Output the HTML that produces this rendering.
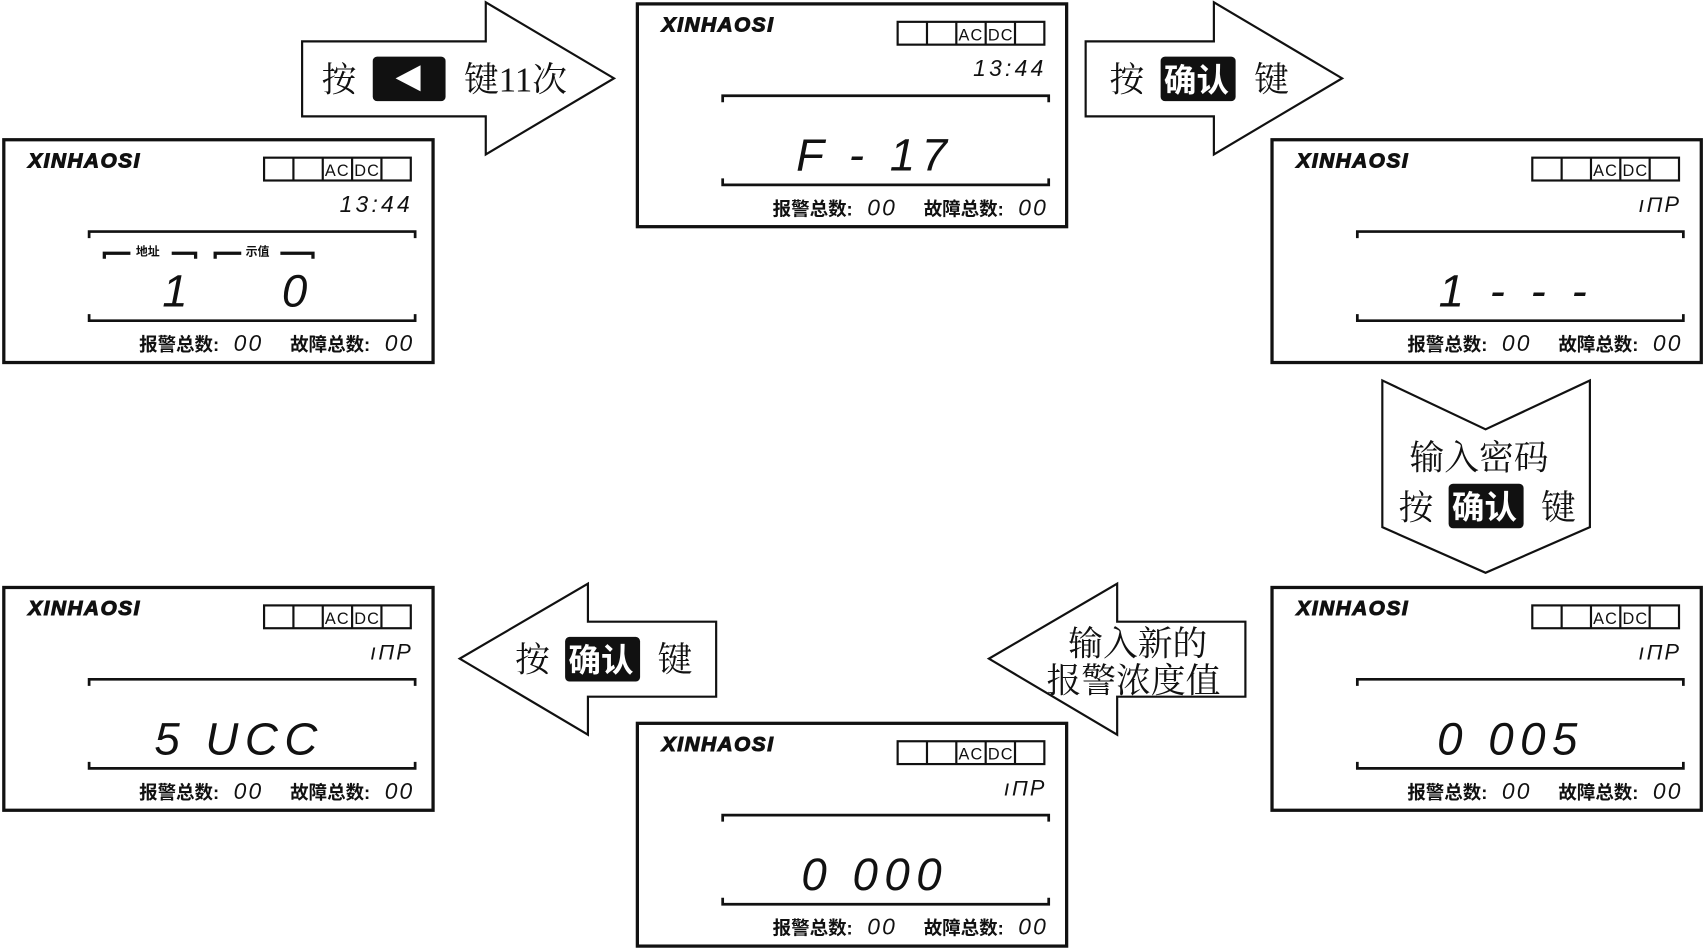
<!DOCTYPE html>
<html><head><meta charset="utf-8"><style>
html,body{margin:0;padding:0;background:#fff;}
svg{display:block}
.cn{font-family:"Liberation Serif","Noto Serif CJK SC",serif;}
.cs{font-family:"Liberation Sans","Noto Sans CJK SC",sans-serif;}
</style></head><body>
<svg width="1704" height="950" viewBox="0 0 1568 874" xmlns="http://www.w3.org/2000/svg">
<defs>
<g id="panel">
<rect x="1.5" y="1.5" width="395" height="205" fill="#fff" stroke="#111" stroke-width="3"/>
<text x="24" y="27" font-family="Liberation Sans,sans-serif" font-weight="bold" font-style="italic" font-size="19" fill="#111" stroke="#111" stroke-width="1" letter-spacing="1.5">XINHAOSI</text>
<g fill="none" stroke="#111" stroke-width="2">
<rect x="241" y="18" width="135" height="21"/>
<line x1="268" y1="18" x2="268" y2="39"/><line x1="295" y1="18" x2="295" y2="39"/>
<line x1="322" y1="18" x2="322" y2="39"/><line x1="349" y1="18" x2="349" y2="39"/>
<path d="M80,92 V86 H380 V92" stroke-width="2.5"/>
<path d="M80,162 V168 H380 V162" stroke-width="2.5"/>
</g>
<text x="297" y="35" class="cs" font-size="15" fill="#111" letter-spacing="1">AC</text>
<text x="324" y="35" class="cs" font-size="15" fill="#111" letter-spacing="1">DC</text>
<text x="126" y="196" class="cs" font-size="17" font-weight="bold" fill="#111">报警总数:</text>
<text x="213" y="196" font-family="Liberation Sans,sans-serif" font-style="italic" font-size="21" fill="#111" letter-spacing="2">00</text>
<text x="265" y="196" class="cs" font-size="17" font-weight="bold" fill="#111">故障总数:</text>
<text x="352" y="196" font-family="Liberation Sans,sans-serif" font-style="italic" font-size="21" fill="#111" letter-spacing="2">00</text>
</g>
</defs>
<g fill="#fff" stroke="#111" stroke-width="2">
<polygon points="278,38 447,38 447,2 565,72 447,142 447,107 278,107"/>
<polygon points="999,38 1117,38 1117,2 1235,72 1117,142 1117,107 999,107"/>
<polygon points="1272,350 1367,395 1463,350 1463,485 1367,527 1272,485"/>
<polygon points="1146,572 1028,572 1028,537 910,606 1028,676 1028,641 1146,641"/>
<polygon points="659,572 541,572 541,537 423,606 541,676 541,641 659,641"/>
</g>
<g class="cn" font-size="32" fill="#111">
<text x="296" y="84">按</text>
<rect x="343" y="52" width="67" height="41" rx="4" fill="#111"/>
<polygon points="364,72 387,60 387,84" fill="#fff"/>
<text x="427" y="84">键11次</text>
<text x="1021" y="84">按</text>
<rect x="1068" y="52" width="69" height="41" rx="4" fill="#111"/>
<text x="1071" y="84" fill="#fff" class="cs" font-weight="bold" font-size="30">确认</text>
<text x="1154" y="84">键</text>
<text x="1297" y="432">输入密码</text>
<text x="1287" y="478">按</text>
<rect x="1333" y="445" width="69" height="41" rx="4" fill="#111"/>
<text x="1336" y="477" fill="#fff" class="cs" font-weight="bold" font-size="30">确认</text>
<text x="1418" y="478">键</text>
<text x="983" y="603">输入新的</text>
<text x="963" y="637">报警浓度值</text>
<text x="474" y="618">按</text>
<rect x="520" y="586" width="69" height="41" rx="4" fill="#111"/>
<text x="523" y="618" fill="#fff" class="cs" font-weight="bold" font-size="30">确认</text>
<text x="605" y="618">键</text>
</g>
<use href="#panel" x="585" y="2"/>
<use href="#panel" x="2" y="127"/>
<use href="#panel" x="1169" y="127"/>
<use href="#panel" x="1169" y="539"/>
<use href="#panel" x="585" y="664"/>
<use href="#panel" x="2" y="539"/>
<g font-family="Liberation Sans,sans-serif" font-style="italic" fill="#111">
<text x="963" y="70" font-size="21" text-anchor="end" letter-spacing="3">13:44</text>
<text x="380" y="195" font-size="21" text-anchor="end" letter-spacing="3">13:44</text>
<text x="1547" y="195" font-size="20" text-anchor="end" letter-spacing="2">ıΠP</text>
<text x="1547" y="607" font-size="20" text-anchor="end" letter-spacing="2">ıΠP</text>
<text x="963" y="732" font-size="20" text-anchor="end" letter-spacing="2">ıΠP</text>
<text x="380" y="607" font-size="20" text-anchor="end" letter-spacing="2">ıΠP</text>
<text x="805" y="157" font-size="42" text-anchor="middle" letter-spacing="6">F - 17</text>
<text x="220" y="282" font-size="42" text-anchor="middle" letter-spacing="8" xml:space="preserve">1    0</text>
<text x="1395" y="282" font-size="42" text-anchor="middle" letter-spacing="6">1 - - -</text>
<text x="1390" y="694" font-size="42" text-anchor="middle" letter-spacing="6">0 005</text>
<text x="805" y="819" font-size="42" text-anchor="middle" letter-spacing="6">0 000</text>
<text x="220" y="694" font-size="42" text-anchor="middle" letter-spacing="6">5 UCC</text>
</g>
<g class="cs" font-size="11" font-weight="bold" fill="#111">
<path d="M96,238 V233 H120 M158,233 H180 V238 M198,238 V233 H222 M258,233 H288 V238" stroke="#111" stroke-width="3" fill="none"/>
<text x="125" y="235">地址</text>
<text x="226" y="235">示值</text>
</g>
</svg>
</body></html>
